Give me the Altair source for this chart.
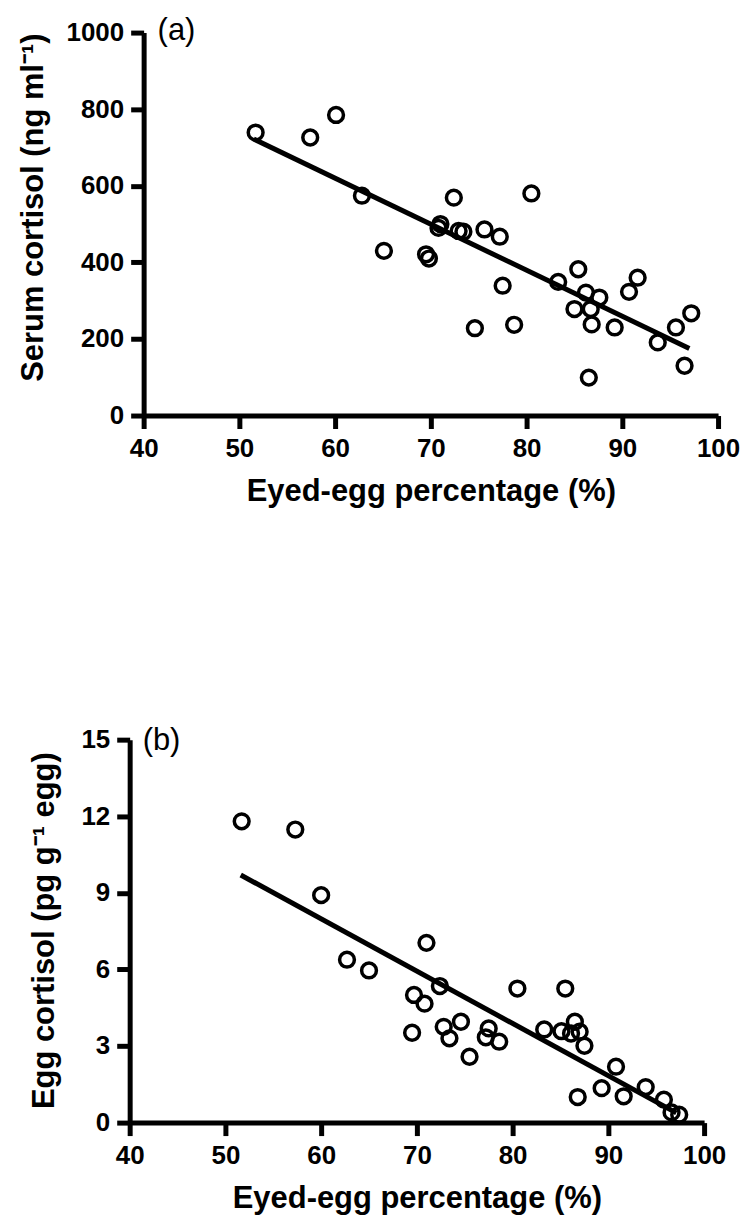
import altair as alt
import pandas as pd

# ---------------- data ----------------
# Panel (a): serum cortisol vs eyed-egg percentage
x_a = [51.7, 57.4, 60.1, 62.8, 65.1, 69.5, 69.8, 70.8, 71.0, 72.4, 72.9, 73.4, 74.6,
       75.6, 77.2, 77.5, 78.7, 80.5, 83.3, 85.0, 85.4, 86.2, 86.5, 86.7, 86.8, 87.6,
       89.2, 90.7, 91.6, 93.7, 95.6, 96.5, 97.2]
y_a = [739, 726, 785, 574, 430, 421, 410, 490, 500, 569, 482, 480, 228,
       486, 467, 339, 237, 580, 349, 278, 382, 321, 99, 278, 238, 308,
       230, 323, 360, 191, 230, 130, 267]
fit_a_x = [51.5, 97.0]
fit_a_y = [722, 175]

# Panel (b): egg cortisol vs eyed-egg percentage
x_b = [51.7, 57.3, 60.0, 62.7, 65.0, 69.5, 69.7, 70.8, 71.0, 72.4, 72.8, 73.4, 74.6,
       75.5, 77.2, 77.5, 78.6, 80.5, 83.3, 85.1, 85.5, 86.1, 86.5, 86.8, 87.0, 87.5,
       89.3, 90.8, 91.6, 93.9, 95.8, 96.6, 97.4]
y_b = [11.80, 11.48, 8.91, 6.38, 5.96, 3.52, 5.00, 4.66, 7.04, 5.35, 3.75, 3.30, 3.95,
       2.58, 3.34, 3.69, 3.17, 5.25, 3.65, 3.58, 5.25, 3.49, 3.95, 1.00, 3.56, 3.01,
       1.35, 2.19, 1.03, 1.39, 0.90, 0.40, 0.31]
fit_b_x = [51.6, 97.1]
fit_b_y = [9.7, 0.38]

x_ticks = [40, 50, 60, 70, 80, 90, 100]
y_ticks_a = [0, 200, 400, 600, 800, 1000]
y_ticks_b = [0, 3, 6, 9, 12, 15]

x_title = "Eyed-egg percentage (%)"
y_title_a = "Serum cortisol (ng ml\u207b\u00b9)"
y_title_b = "Egg cortisol (pg g\u207b\u00b9 egg)"

FONT = "Liberation Sans"
W, H = 576, 384

AXIS_STYLE = dict(
    grid=False,
    domainColor="black", domainWidth=5,
    tickColor="black", tickWidth=5, tickSize=13,
    labelFont=FONT, labelFontSize=26, labelFontWeight="bold", labelColor="black",
    labelPadding=7,
    titleFont=FONT, titleFontSize=31, titleFontWeight="bold", titleColor="black",
    format="d",
)


def panel(xs, ys, fx, fy, ydomain, yticks, ytitle, tag, shift, title_x, title_y,
          tag_x, tag_y, spacer=None):
    df = pd.DataFrame({"x": xs, "y": ys})
    fit = pd.DataFrame({"x": fx, "y": fy})
    xscale = alt.Scale(domain=[40, 100], range=[shift, shift + W], nice=False, zero=False)
    yscale = alt.Scale(domain=ydomain, nice=False, zero=False)
    xaxis = alt.Axis(values=x_ticks, title=x_title, titleY=85,
                     titleBaseline="alphabetic", labelFlush=False, **AXIS_STYLE)
    yaxis = alt.Axis(values=yticks, title=ytitle, offset=-shift,
                     titleX=title_x, titleY=title_y, titleAngle=270,
                     titleBaseline="alphabetic", titleAlign="center", **AXIS_STYLE)
    pts = alt.Chart(df).mark_point(
        shape="circle", filled=False, size=220, strokeWidth=3.5,
        color="black", opacity=1
    ).encode(
        x=alt.X("x:Q", scale=xscale, axis=xaxis),
        y=alt.Y("y:Q", scale=yscale, axis=yaxis),
    )
    line = alt.Chart(fit).mark_line(color="black", strokeWidth=5).encode(
        x=alt.X("x:Q", scale=xscale),
        y=alt.Y("y:Q", scale=yscale),
    )
    label = alt.Chart(pd.DataFrame({"t": [tag]})).mark_text(
        align="left", baseline="alphabetic", font=FONT, fontSize=31,
        fontWeight="normal", color="black"
    ).encode(text="t:N", x=alt.value(tag_x), y=alt.value(tag_y))
    layers = [line, pts, label]
    if spacer is not None:
        sp = alt.Chart(pd.DataFrame({"s": [0]})).mark_rule(
            color="white", strokeWidth=1
        ).encode(x=alt.value(spacer[0]), y=alt.value(spacer[1]), y2=alt.value(0))
        layers.insert(0, sp)
    return alt.layer(*layers).properties(width=W + shift, height=H)


pa = panel(x_a, y_a, fit_a_x, fit_a_y, [0, 1000], y_ticks_a, y_title_a, "(a)",
           shift=14, title_x=-101, title_y=175, tag_x=28, tag_y=7,
           spacer=(-121, -22))
pb = panel(x_b, y_b, fit_b_x, fit_b_y, [0, 15], y_ticks_b, y_title_b, "(b)",
           shift=0, title_x=-76, title_y=191, tag_x=13, tag_y=10)

chart = alt.vconcat(pa, pb, spacing=325, bounds="flush").properties(
    padding=0
).configure_view(stroke=None)

chart.save("out.html", embed_options={"renderer": "svg", "actions": False})
